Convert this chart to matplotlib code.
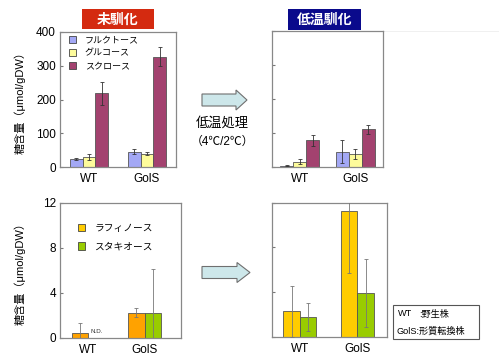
import matplotlib
matplotlib.use("Agg")
import matplotlib.pyplot as plt
from matplotlib.patches import Rectangle, Polygon, Patch
import numpy as np

plt.rcParams['font.family'] = ['Liberation Sans', 'Noto Sans CJK JP', 'DejaVu Sans']

W, H = 499, 356

groups = ['WT', 'GolS']

# monosaccharides / sucrose (umol/gDW)
sugar_names = ['フルクトース', 'グルコース', 'スクロース']
sugar_colors = ['#a3a8f5', '#fdfb9b', '#a3426f']
pre_vals = [[24, 45], [30, 40], [218, 327]]
pre_err = [[3, 7], [8, 3], [33, 28]]
cold_vals = [[4, 45], [16, 38], [78, 111]]
cold_err = [[2, 34], [7, 14], [17, 13]]

# oligosaccharides (umol/gDW)
oligo_names = ['ラフィノース', 'スタキオース']
oligo_colors_pre = ['#ffa200', '#99cc00']
oligo_colors_cold = ['#ffcc00', '#99cc00']
oligo_pre_vals = [[0.47, 2.24], [0.0, 2.24]]
oligo_pre_err = [[0.9, 0.4], [0.0, 3.85]]
oligo_cold_vals = [[2.3, 11.3], [1.8, 3.96]]
oligo_cold_err = [[2.3, 5.6], [1.25, 3.05]]


def px(x0, y0, x1, y1):
    return [x0 / W, 1 - y1 / H, (x1 - x0) / W, (y1 - y0) / H]


def style(ax, ymax, yticks, show_labels):
    ax.set_ylim(0, ymax)
    ax.set_yticks(yticks)
    ax.tick_params(axis='y', direction='in', length=2.5, color='#777777',
                   labelsize=8.5, pad=3, labelleft=show_labels)
    ax.tick_params(axis='x', length=0, labelsize=8.5, pad=4)
    ax.set_xticks([0, 1])
    ax.set_xticklabels(groups)
    for s in ax.spines.values():
        s.set_color('#888888')
        s.set_linewidth(0.9)


def bars(ax, vals, errs, colors, width, ecolor):
    n = len(vals)
    x = np.arange(len(groups))
    for i in range(n):
        off = (i - (n - 1) / 2) * width
        ax.bar(x + off, vals[i], width, color=colors[i], edgecolor='#555555',
               linewidth=0.6, zorder=2)
        e = np.array(errs[i], dtype=float)
        v = np.array(vals[i], dtype=float)
        m = e > 0
        ax.errorbar((x + off)[m], v[m], yerr=e[m], fmt='none', ecolor=ecolor,
                    elinewidth=0.6, capsize=1.5, capthick=0.6, zorder=3)


fig = plt.figure(figsize=(W / 100, H / 100), dpi=100)

# top left
ax1 = fig.add_axes(px(60, 32, 176, 167))
bars(ax1, pre_vals, pre_err, sugar_colors, 0.224, '#333333')
ax1.set_xlim(-0.5, 1.5)
style(ax1, 400, [0, 100, 200, 300, 400], True)
h1 = [Patch(facecolor=c, edgecolor='#444444', linewidth=0.6) for c in sugar_colors]
ax1.legend(h1, sugar_names, loc='upper left', bbox_to_anchor=(0.02, 1.02),
           frameon=False, fontsize=6.5, handlelength=0.8, handleheight=0.8,
           handletextpad=1.0, labelspacing=0.45, borderaxespad=0.3)

# top right
ax2 = fig.add_axes(px(272, 31, 383, 167))
bars(ax2, cold_vals, cold_err, sugar_colors, 0.234, '#333333')
ax2.set_xlim(-0.5, 1.5)
style(ax2, 400, [0, 100, 200, 300, 400], False)

# bottom left
ax3 = fig.add_axes(px(60, 202.7, 181, 338))
bars(ax3, oligo_pre_vals, oligo_pre_err, oligo_colors_pre, 0.296, '#777777')
ax3.set_xlim(-0.502, 1.644)
style(ax3, 12, [0, 4, 8, 12], True)
ax3.text(0.148, 0.35, 'N.D.', fontsize=4.5, ha='center', va='bottom', color='#333333')
h3 = [Patch(facecolor=c, edgecolor='#444444', linewidth=0.6) for c in oligo_colors_cold]
ax3.legend(h3, oligo_names, loc='upper left', bbox_to_anchor=(0.09, 0.9),
           frameon=False, fontsize=7, handlelength=0.8, handleheight=0.8,
           handletextpad=0.9, labelspacing=0.85, borderaxespad=0.3)

# bottom right
ax4 = fig.add_axes(px(272, 202.7, 387, 337))
bars(ax4, oligo_cold_vals, oligo_cold_err, oligo_colors_cold, 0.287, '#777777')
ax4.set_xlim(-0.487, 1.517)
style(ax4, 12, [0, 4, 8, 12], False)

# y labels
ylab = '糖含量（μmol/gDW）'
fig.text(20 / W, 1 - 100 / H, ylab, rotation=90, ha='center', va='center', fontsize=8)
fig.text(20 / W, 1 - 271 / H, ylab, rotation=90, ha='center', va='center', fontsize=8)

# overlay for boxes, arrows
ov = fig.add_axes([0, 0, 1, 1], zorder=-1)
ov.set_xlim(0, W)
ov.set_ylim(H, 0)
ov.axis('off')

ov.add_patch(Rectangle((82, 9), 72, 20, facecolor='#d42a10', edgecolor='none'))
ov.text(118, 19.5, '未馴化', color='white', fontsize=10, fontweight='bold',
        ha='center', va='center')
ov.add_patch(Rectangle((288, 9), 73, 21, facecolor='#0a0a8c', edgecolor='none'))
ov.text(324.5, 19.5, '低温馴化', color='white', fontsize=10, fontweight='bold',
        ha='center', va='center')

ov.plot([383, 499], [31, 31], color='#eeeeee', lw=0.6)


def arrow(x0, x1, xtip, yc, sh, hh):
    pts = [(x0, yc - sh), (x1, yc - sh), (x1, yc - hh), (xtip, yc),
           (x1, yc + hh), (x1, yc + sh), (x0, yc + sh)]
    ov.add_patch(Polygon(pts, closed=True, facecolor='#cde7ea',
                         edgecolor='#6f6f6f', linewidth=0.8))


arrow(202, 236, 247, 100, 6, 10)
arrow(202, 237, 250, 272.5, 6, 10)

ov.text(222, 123, '低温処理', fontsize=9.5, ha='center', va='center')
ov.text(222, 142, '（4℃/2℃）', fontsize=8.5, ha='center', va='center')

# strain legend box
ov.add_patch(Rectangle((393.5, 305), 86, 34, facecolor='white', edgecolor='#555555',
                       linewidth=0.8))
ov.text(398, 314, 'WT', fontsize=6.6, ha='left', va='center')
ov.text(419, 314, ':野生株', fontsize=6.6, ha='left', va='center')
ov.text(397, 331, 'GolS:形質転換株', fontsize=6.6, ha='left', va='center')

fig.savefig('out.png', dpi=100)
